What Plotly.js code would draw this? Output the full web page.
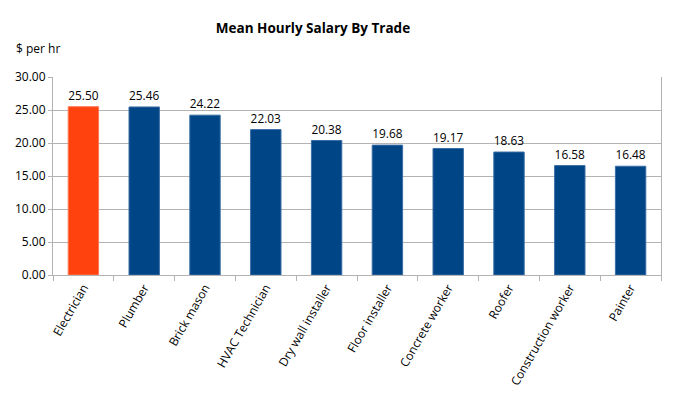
<!DOCTYPE html>
<html><head><meta charset="utf-8">
<script src="https://cdn.plot.ly/plotly-3.0.1.min.js"></script>
<style>body{margin:0;background:#fff}</style>
</head><body><div id="chart" style="width:674px;height:408px"></div>
<script>
const categories = ["Electrician","Plumber","Brick mason","HVAC Technician","Dry wall installer","Floor installer","Concrete worker","Roofer","Construction worker","Painter"];
const salaries = [25.50,25.46,24.22,22.03,20.38,19.68,19.17,18.63,16.58,16.48];
const barColors = ["#FF420E","#004586","#004586","#004586","#004586","#004586","#004586","#004586","#004586","#004586"];
const edgeColors = ["#FF7A55","#3A6EA5","#3A6EA5","#3A6EA5","#3A6EA5","#3A6EA5","#3A6EA5","#3A6EA5","#3A6EA5","#3A6EA5"];
const yTicks = [0,5,10,15,20,25,30];

const font = "Open Sans, Noto Sans, sans-serif";
Plotly.newPlot("chart", [{
  type: "bar",
  x: categories,
  y: salaries,
  width: 0.5,
  marker: {color: barColors, line: {color: edgeColors, width: 1}},
  text: salaries.map(v => v.toFixed(2)),
  textposition: "outside",
  cliponaxis: false,
  textfont: {family: font, size: 12, color: "#000"},
  hoverinfo: "none"
}], {
  width: 674, height: 408,
  margin: {l: 53, r: 13, t: 77, b: 133},
  paper_bgcolor: "#fff", plot_bgcolor: "#fff",
  showlegend: false,
  font: {family: font, size: 12, color: "#000"},
  title: {text: "<b>Mean Hourly Salary By Trade</b>", x: 313/674, xanchor: "center", xref: "container",
          y: 1 - 28/408, yanchor: "middle", yref: "container", font: {family: font, size: 13.5, color: "#000"}},
  xaxis: {
    type: "category", tickangle: -60, showline: true, linecolor: "#b3b3b3", linewidth: 1,
    ticks: "outside", tickson: "boundaries", ticklen: 5, tickcolor: "#b3b3b3",
    tickfont: {family: font, size: 12, color: "#000"}, showgrid: false
  },
  yaxis: {
    range: [0, 30], tickvals: yTicks, ticktext: yTicks.map(v => v.toFixed(2)),
    showgrid: true, gridcolor: "#b3b3b3", gridwidth: 1,
    showline: true, linecolor: "#b3b3b3", mirror: true,
    ticks: "outside", ticklen: 4, tickcolor: "#b3b3b3",
    tickfont: {family: font, size: 12, color: "#000"}, zeroline: false
  },
  annotations: [{text: "$ per hr", xref: "paper", yref: "paper", x: (14 - 53)/608, y: 1 + 29/198,
    xanchor: "left", yanchor: "middle", showarrow: false, font: {family: font, size: 12, color: "#000"}}]
}, {displayModeBar: false, staticPlot: true});
</script></body></html>
